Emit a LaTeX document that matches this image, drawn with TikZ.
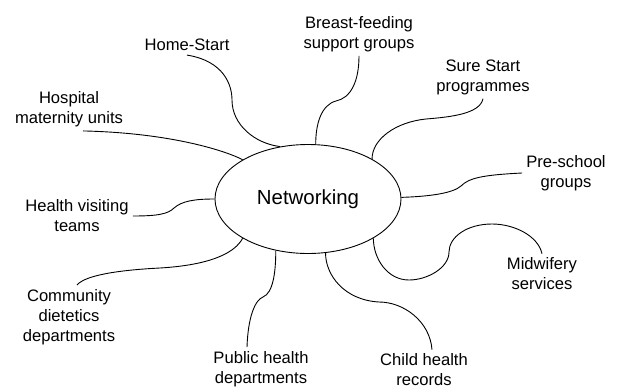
\documentclass[tikz,border=0pt]{standalone}
\usepackage{fontspec}
\setmainfont{Liberation Sans}
\usetikzlibrary{shapes.geometric}

\begin{document}
\begin{tikzpicture}[x=1pt, y=-1pt,
		lbl/.style={align=center, inner sep=4pt, font=\fontsize{16.6}{20}\selectfont},
		link/.style={line width=0.9pt}]
		%%%%% START %%%%%
		
		\useasboundingbox (0, 0) rectangle (618, 388);
		
		\node[ellipse, draw, line width=0.9pt, minimum width=186, minimum height=109, inner sep=0pt,
			font=\fontsize{20.4}{24}\selectfont] (net) at (308, 199) {Networking};
		
		\node[lbl] (home) at (187, 45) {Home-Start};
		\node[lbl] (hosp) at (69, 109) {Hospital\\maternity units};
		\node[lbl] (breast) at (359, 34) {Breast-feeding\\support groups};
		\node[lbl] (sure) at (483, 77) {Sure Start\\programmes};
		\node[lbl] (pre) at (566, 173) {Pre-school\\groups};
		\node[lbl] (hv) at (77, 216) {Health visiting\\teams};
		\node[lbl] (comm) at (69, 317) {Community\\dietetics\\departments};
		\node[lbl] (pub) at (261, 369) {Public health\\departments};
		\node[lbl] (child) at (424, 370) {Child health\\records};
		\node[lbl] (midw) at (542, 274) {Midwifery\\services};
		
		\draw[link] (home.south) .. controls +(37, 6) and +(0, -15) .. (232, 100) .. controls +(0, 25) and +(-25, -3) .. (net.118);
		\draw[link] ([xshift=14pt]hosp.south) .. controls +(90, 2) and +(-15, -8) .. (net.149);
		\draw[link] (breast.south) .. controls +(0, 25) and +(15, -3) .. (336, 101) .. controls +(-15, 4) and +(0, -20) .. (net.82);
		\draw[link] (sure.south) .. controls +(-3, 15) and +(25, -2) .. (426, 119) .. controls +(-30, 3) and +(0, -20) .. (net.32);
		\draw[link] (pre.west) .. controls +(-40, 2) and +(8, -8) .. (461, 186) .. controls +(-8, 7) and +(30, -1) .. (net.1);
		\draw[link] (hv.east) .. controls +(25, 0) and +(-6, 6) .. (174, 208) .. controls +(8, -7) and +(-20, 0) .. (net.west);
		\draw[link] ([xshift=8pt]comm.north) .. controls +(8, -10) and +(-40, 2) .. (160, 268) .. controls +(50, -3) and +(-8, 15) .. (net.211);
		\draw[link] ([xshift=-14pt]pub.north) .. controls +(1, -30) and +(-8, 3) .. (263, 297) .. controls +(10, -4) and +(0, 22) .. (net.238);
		\draw[link] ([xshift=8pt]child.north) .. controls +(-2, -28) and +(25, 0) .. (379, 302) .. controls +(-35, -2) and +(0, 22) .. (net.-72);
		\draw[link] (midw.north) .. controls +(-4, -18) and +(22, 0) .. (492, 224) .. controls +(-25, 0) and +(0, -15) .. (449, 252)
			.. controls +(0, 16) and +(18, 0) .. (409, 280) .. controls +(-22, 0) and +(0, 20) .. (net.-31);
		
		%%%%% END %%%%%
	\end{tikzpicture}
\end{document}
